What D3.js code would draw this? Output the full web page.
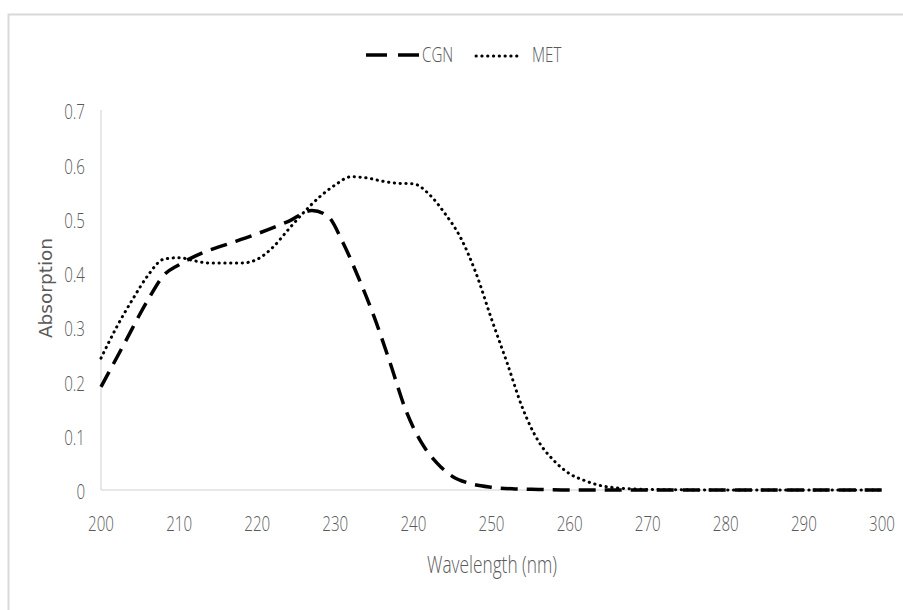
<html>
<head>
  <script src="https://d3js.org/d3.v7.min.js"></script>
  <style>
    body { margin: 0; background: #fff; }
    .lbl { font-family: "Open Sans", sans-serif; font-weight: 300; fill: #595959; }
  </style>
</head>
<body>
  <svg id="chart" width="903" height="610"></svg>
  <script>
    // wavelength (nm) and absorption readings
    const cgnWave = [200, 203, 206, 208, 210, 213, 216, 220, 224, 227, 229, 231, 233, 235, 237, 239, 241, 243, 245, 247, 250, 253, 256, 260, 270, 280, 290, 300];
    const cgnAbs = [0.19, 0.27, 0.35, 0.395, 0.415, 0.437, 0.452, 0.472, 0.495, 0.515, 0.505, 0.455, 0.39, 0.318, 0.235, 0.148, 0.088, 0.05, 0.025, 0.013, 0.005, 0.002, 0.001, 0, 0, 0, 0, 0];

    const metWave = [200, 202, 204, 206, 208, 210, 212, 214, 216, 218, 220, 222, 224, 226, 228, 230, 232, 234, 236, 238, 240, 242, 244, 246, 248, 250, 252, 254, 256, 258, 260, 262, 264, 266, 268, 270, 280, 290, 300];
    const metAbs = [0.243, 0.3, 0.35, 0.395, 0.425, 0.428, 0.422, 0.418, 0.418, 0.418, 0.425, 0.447, 0.48, 0.512, 0.54, 0.562, 0.577, 0.575, 0.569, 0.565, 0.564, 0.545, 0.51, 0.466, 0.4, 0.315, 0.234, 0.15, 0.09, 0.054, 0.03, 0.017, 0.008, 0.004, 0.002, 0.001, 0, 0, 0];

    const xTicks = [200, 210, 220, 230, 240, 250, 260, 270, 280, 290, 300];
    const yTicks = [0, 0.1, 0.2, 0.3, 0.4, 0.5, 0.6, 0.7];

    const svg = d3.select('svg#chart');

    // narrow text, the original font is a condensed one
    function label(px, py, txt, size, anchor) {
      svg.append('g')
        .attr('transform', `translate(${px},${py}) scale(0.72,1)`)
        .append('text')
        .attr('class', 'lbl')
        .attr('text-anchor', anchor)
        .attr('dy', '0.35em')
        .style('font-size', size + 'px')
        .text(txt);
    }

    // chart area border
    svg.append('rect')
      .attr('x', 8.5).attr('y', 14.5)
      .attr('width', 920).attr('height', 620)
      .attr('fill', 'none').attr('stroke', '#d9d9d9').attr('stroke-width', 2);

    const x = d3.scaleLinear().domain([200, 300]).range([101, 882]);
    const y = d3.scaleLinear().domain([0, 0.7]).range([490, 110]);

    // axis lines
    svg.append('line')
      .attr('x1', x(200)).attr('x2', x(200))
      .attr('y1', y(0.7)).attr('y2', y(0))
      .attr('stroke', '#d0d0d0').attr('stroke-width', 1);
    svg.append('line')
      .attr('x1', x(200)).attr('x2', x(300))
      .attr('y1', y(0)).attr('y2', y(0))
      .attr('stroke', '#d0d0d0').attr('stroke-width', 1);

    yTicks.forEach(d => label(85, y(d) + 2, d === 0 ? '0' : d.toFixed(1), 21, 'end'));
    xTicks.forEach(d => label(x(d), 524, d, 21, 'middle'));

    const line = d3.line()
      .x(d => x(d[0]))
      .y(d => y(d[1]))
      .curve(d3.curveMonotoneX);

    const cgn = cgnWave.map((w, i) => [w, cgnAbs[i]]);
    const met = metWave.map((w, i) => [w, metAbs[i]]);

    svg.append('path')
      .attr('d', line(met))
      .attr('fill', 'none')
      .attr('stroke', '#000')
      .attr('stroke-width', 3)
      .attr('stroke-linecap', 'round')
      .attr('stroke-dasharray', '0.3,5.5');

    svg.append('path')
      .attr('d', line(cgn))
      .attr('fill', 'none')
      .attr('stroke', '#000')
      .attr('stroke-width', 3.5)
      .attr('stroke-dasharray', '17,9');

    // legend
    svg.append('line')
      .attr('x1', 366).attr('x2', 420).attr('y1', 55).attr('y2', 55)
      .attr('stroke', '#000').attr('stroke-width', 3.5)
      .attr('stroke-dasharray', '21,11');
    label(422, 55, 'CGN', 21, 'start');
    svg.append('line')
      .attr('x1', 476).attr('x2', 522).attr('y1', 56).attr('y2', 56)
      .attr('stroke', '#000').attr('stroke-width', 3)
      .attr('stroke-linecap', 'round')
      .attr('stroke-dasharray', '0.3,5.5');
    label(532, 55, 'MET', 21, 'start');

    // axis titles
    svg.append('text')
      .attr('transform', 'translate(52,288) rotate(-90)')
      .attr('text-anchor', 'middle')
      .style('font-family', '"DejaVu Sans", Verdana, sans-serif')
      .style('font-size', '18.5px')
      .style('fill', '#595959')
      .text('Absorption');

    label(492, 565, 'Wavelength (nm)', 24, 'middle');
  </script>
</body>
</html>
